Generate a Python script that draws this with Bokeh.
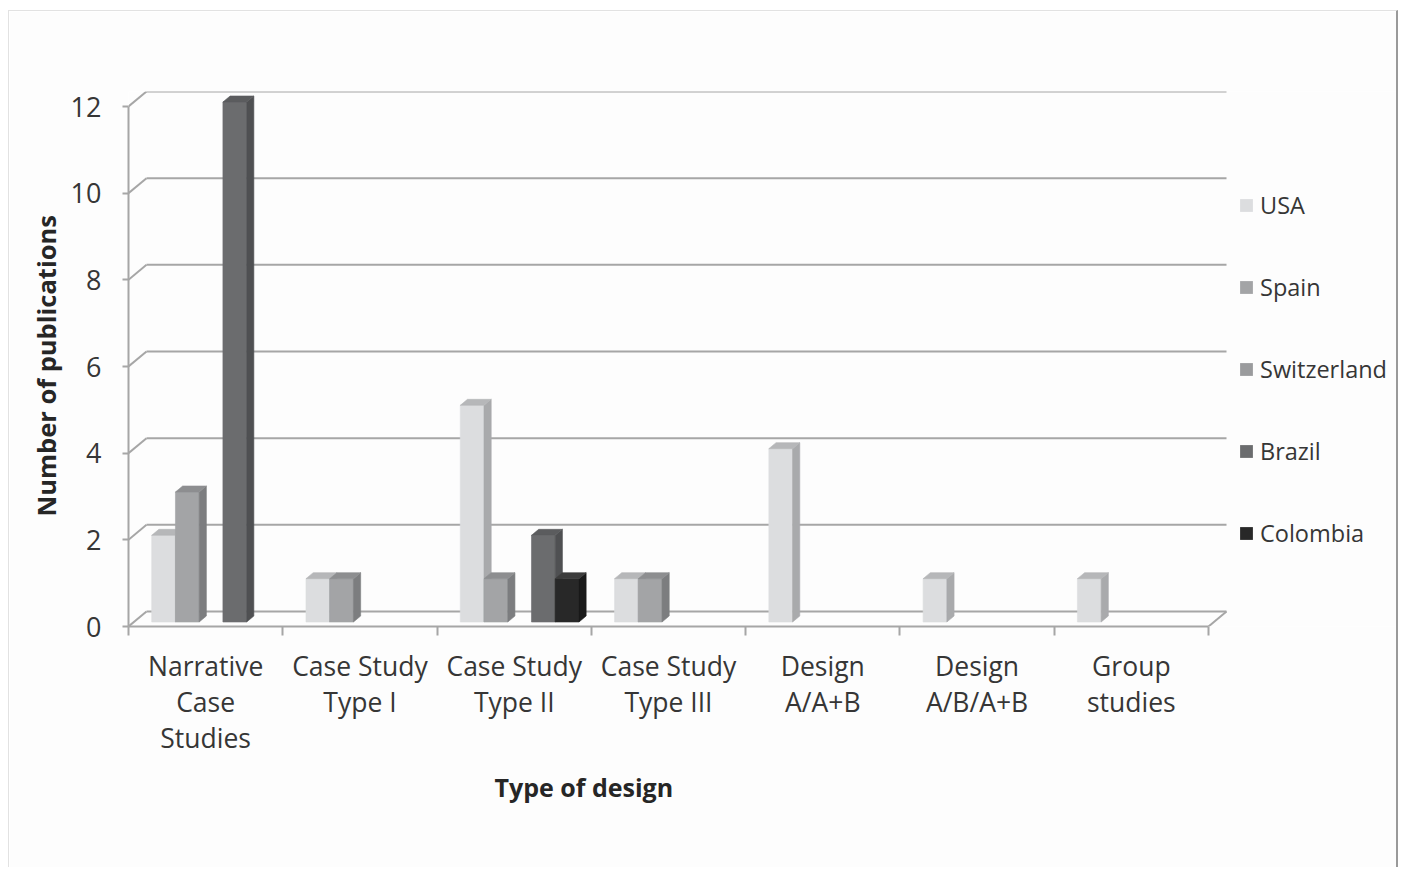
from bokeh.plotting import figure
from bokeh.models import Range1d, FixedTicker, LinearAxis, Legend, LegendItem, Title
from bokeh.embed import file_html
from bokeh.resources import INLINE

# Publications by type of design and country
categories = ["Narrative\nCase\nStudies", "Case Study\nType I", "Case Study\nType II",
              "Case Study\nType III", "Design\nA/A+B", "Design\nA/B/A+B", "Group\nstudies"]
series = ["USA", "Spain", "Switzerland", "Brazil", "Colombia"]
usa = [2, 1, 5, 1, 4, 1, 1]
spain = [3, 1, 1, 1, 0, 0, 0]
switzerland = [0, 0, 0, 0, 0, 0, 0]
brazil = [12, 0, 2, 0, 0, 0, 0]
colombia = [0, 0, 1, 0, 0, 0, 0]
y_ticks = [0, 2, 4, 6, 8, 10, 12]

values = [usa, spain, switzerland, brazil, colombia]

# front / side / top shades for each country
front_colors = ["#dcdddf", "#a3a4a6", "#9a9b9d", "#6b6c6e", "#282828"]
side_colors = ["#a9aaac", "#7c7d7f", "#747577", "#4f5052", "#1a1a1a"]
top_colors = ["#b6b7b9", "#8d8e90", "#86878a", "#5b5c5e", "#3c3c3c"]

GRID = "#a6a6a6"
TEXT = "#363636"
FONT = "Open Sans"

# pseudo-3D geometry (pixels per unit on the front plane, depth offsets)
PX_X = 1080 / 7
PX_Y = 520 / 12
DX = 18 / PX_X
DY = 15 / PX_Y
F0, F1 = 0.3, 0.7
BAR_W = 1 / 6.5
GAP = 0.75 / 6.5

# the frame also holds the legend on its right-hand side
FRAME_W, FRAME_H = 1269, 535

p = figure(width=1390, height=857,
           x_range=Range1d(0, FRAME_W / PX_X), y_range=Range1d(0, FRAME_H / PX_Y),
           x_axis_type=None, y_axis_type=None,
           output_backend="svg", toolbar_location=None,
           min_border_left=119, min_border_right=2, min_border_top=80, min_border_bottom=242,
           background_fill_color="#fdfdfd", border_fill_color="#fdfdfd",
           outline_line_color=None)
p.margin = (10, 5, 2, 8)
p.styles = {"border-top": "1px solid #e2e2e2", "border-left": "1px solid #e2e2e2",
            "border-right": "2px solid #9a9a9a"}

# back wall gridlines and the diagonal connectors to the front axis
n_cat = len(categories)
p.segment(x0=[DX] * len(y_ticks), y0=[t + DY for t in y_ticks],
          x1=[n_cat + DX] * len(y_ticks), y1=[t + DY for t in y_ticks],
          line_color=GRID, line_width=2)
p.segment(x0=[0] * len(y_ticks), y0=y_ticks, x1=[DX] * len(y_ticks), y1=[t + DY for t in y_ticks],
          line_color=GRID, line_width=2)
p.segment(x0=[n_cat], y0=[0], x1=[n_cat + DX], y1=[DY], line_color=GRID, line_width=2)

# 3D columns: front face, right side face, top face
ax, ay = F0 * DX, F0 * DY
bx, by = F1 * DX, F1 * DY
for s, vals in enumerate(values):
    xs, ys, cols = [], [], []
    for c, v in enumerate(vals):
        if v <= 0:
            continue
        x0 = c + GAP + s * BAR_W
        x1 = x0 + BAR_W
        xs.append([x0 + ax, x1 + ax, x1 + ax, x0 + ax])
        ys.append([ay, ay, v + ay, v + ay])
        cols.append(front_colors[s])
        xs.append([x1 + ax, x1 + bx, x1 + bx, x1 + ax])
        ys.append([ay, by, v + by, v + ay])
        cols.append(side_colors[s])
        xs.append([x0 + ax, x1 + ax, x1 + bx, x0 + bx])
        ys.append([v + ay, v + ay, v + by, v + by])
        cols.append(top_colors[s])
    if xs:
        p.patches(xs=xs, ys=ys, fill_color=cols, line_color=cols, line_width=0.6)

# value axis
yaxis = LinearAxis(ticker=FixedTicker(ticks=y_ticks, minor_ticks=[]), bounds=(0, 12),
                   axis_line_color=GRID, axis_line_width=2,
                   major_tick_line_color=GRID, major_tick_line_width=2,
                   major_tick_in=0, major_tick_out=6, minor_tick_line_color=None,
                   major_label_text_font=FONT, major_label_text_font_size="27px",
                   major_label_text_color=TEXT, major_label_standoff=21)
p.add_layout(yaxis, "left")

# value axis title, placed along the lower part of the axis
p.add_layout(Title(text="Number of publications", align="left", offset=110, standoff=10,
                   text_font=FONT, text_font_size="25.5px", text_font_style="bold",
                   text_color="#262626"), "left")

# category axis: labels at centres, tick marks at the boundaries
centers = [i + 0.5 for i in range(n_cat)]
boundaries = list(range(n_cat + 1))
xaxis = LinearAxis(ticker=FixedTicker(ticks=centers, minor_ticks=boundaries), bounds=(0, n_cat),
                   axis_line_color=GRID, axis_line_width=2,
                   major_tick_in=0, major_tick_out=0, major_tick_line_color=None,
                   minor_tick_in=0, minor_tick_out=9, minor_tick_line_color=GRID,
                   minor_tick_line_width=2,
                   major_label_overrides={c: lab for c, lab in zip(centers, categories)},
                   major_label_text_font=FONT, major_label_text_font_size="26.5px",
                   major_label_text_color=TEXT, major_label_text_line_height=1.01,
                   major_label_standoff=12)
p.add_layout(xaxis, "below")

# category axis title, set left of centre under the columns
p.add_layout(Title(text="Type of design", align="left", offset=366, standoff=17,
                   text_font=FONT, text_font_size="25px", text_font_style="bold",
                   text_color="#262626"), "below")

# legend swatches (legend-only renderers, nothing drawn in the plot)
nan = float("nan")
swatches = [p.quad(left=[nan], right=[nan], top=[nan], bottom=[nan],
                   fill_color=c, line_color=None)
            for c in front_colors]
legend = Legend(items=[LegendItem(label=name, renderers=[r]) for name, r in zip(series, swatches)],
                location=(1110, 77), orientation="vertical",
                glyph_width=16, glyph_height=16, label_height=20, spacing=50,
                padding=10, margin=0, label_standoff=6,
                label_text_font=FONT, label_text_font_size="23.5px", label_text_color=TEXT,
                border_line_color=None, background_fill_alpha=0)
p.add_layout(legend, "center")

open("out.html", "w").write(file_html(p, INLINE))
